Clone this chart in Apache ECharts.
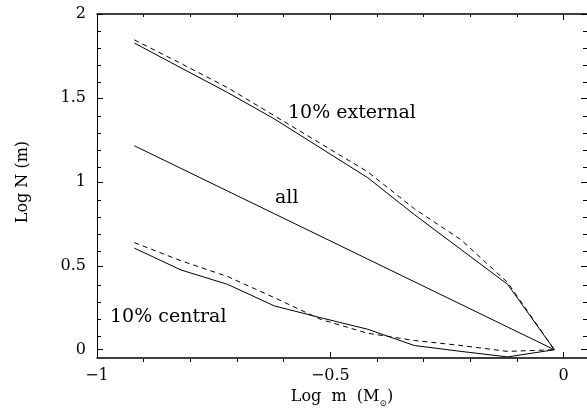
<!DOCTYPE html>
<html><head><meta charset="utf-8">
<script src="https://cdn.jsdelivr.net/npm/echarts@6/dist/echarts.min.js"></script>
<style>html,body{margin:0;padding:0;background:#fff}#c{width:587px;height:413px}</style>
</head><body><div id="c"></div>
<script>
// Data
const logM = [-0.92, -0.82, -0.72, -0.62, -0.52, -0.42, -0.32, -0.22, -0.12, -0.02];
const allN = [1.215, 1.08, 0.945, 0.81, 0.675, 0.54, 0.405, 0.27, 0.135, 0.0];
const extSolid = [1.827, 1.679, 1.532, 1.375, 1.20, 1.025, 0.805, 0.597, 0.389, 0.0];
const extDashed = [1.846, 1.705, 1.561, 1.394, 1.227, 1.06, 0.84, 0.655, 0.40, 0.0];
const cenSolid = [0.605, 0.475, 0.389, 0.261, 0.19, 0.122, 0.025, -0.01, -0.043, 0.0];
const cenDashed = [0.638, 0.53, 0.436, 0.31, 0.18, 0.098, 0.055, 0.025, -0.01, 0.0];

const xMajor = [-1, -0.5, 0];
const xMinor = [-0.9, -0.8, -0.7, -0.6, -0.4, -0.3, -0.2, -0.1];
const yMajor = [0, 0.5, 1, 1.5, 2];
const yMinor = [0.1, 0.2, 0.3, 0.4, 0.6, 0.7, 0.8, 0.9, 1.1, 1.2, 1.3, 1.4, 1.6, 1.7, 1.8, 1.9];

const FONT = 'DejaVu Serif';
const X_MIN = -1, X_MAX = 0.05, Y_MIN = -0.05, Y_MAX = 2;
const fmt = v => String(v).replace('-', '\u2212');

function axis(dim, pos, gi, ticks, len, opts) {
  const a = {
    type: 'value', gridIndex: gi, position: pos,
    min: dim === 'x' ? X_MIN : Y_MIN, max: dim === 'x' ? X_MAX : Y_MAX,
    axisLine: { show: !!opts.line, onZero: false, lineStyle: { color: '#000', width: opts.lw || 1 } },
    axisTick: { show: true, inside: true, length: len, customValues: ticks, lineStyle: { color: '#000', width: 1 } },
    axisLabel: { show: false },
    splitLine: { show: false }
  };
  if (opts.labels) {
    a.axisLabel = { show: true, customValues: ticks, formatter: fmt, color: '#000',
      fontFamily: FONT, fontSize: 16, margin: opts.margin };
  }
  if (opts.name) Object.assign(a, opts.name);
  return a;
}

const chart = echarts.init(document.getElementById('c'));
const line = (data, dashed) => ({
  type: 'line', xAxisIndex: 0, yAxisIndex: 0, symbol: 'none', silent: true,
  data: logM.map((x, i) => [x, data[i]]),
  lineStyle: { color: '#000', width: 1, type: dashed ? [5, 4] : 'solid' }
});

chart.setOption({
  animation: false,
  backgroundColor: '#fff',
  grid: [
    { left: 97, top: 14, width: 495, height: 348 },
    { left: 97, top: 14, width: 495, height: 348 }
  ],
  xAxis: [
    axis('x', 'bottom', 0, xMajor, 6, { line: true, lw: 1.5, labels: true, margin: 10, name: {
      name: '{t|Log  m  (M}{s|\u2299}{t|)}', nameLocation: 'middle', nameGap: 27,
      nameTextStyle: { rich: {
        t: { fontFamily: FONT, fontSize: 16, color: '#000', lineHeight: 22 },
        s: { fontFamily: FONT, fontSize: 9, color: '#000', lineHeight: 10, verticalAlign: 'bottom' }
      } } } }),
    axis('x', 'top', 0, xMajor, 6, { line: true, lw: 1.5 }),
    axis('x', 'bottom', 1, xMinor, 3, {}),
    axis('x', 'top', 1, xMinor, 3, {})
  ],
  yAxis: [
    axis('y', 'left', 0, yMajor, 6, { line: true, labels: true, margin: 11, name: {
      name: 'Log N (m)', nameLocation: 'middle', nameGap: 66,
      nameTextStyle: { fontFamily: FONT, fontSize: 16, color: '#000', padding: [0, 0, 0, 8] } } }),
    axis('y', 'right', 0, yMajor, 6, { line: true }),
    axis('y', 'left', 1, yMinor, 4, {}),
    axis('y', 'right', 1, yMinor, 4, {})
  ],
  graphic: [
    { type: 'text', left: 288, top: 104, style: { text: '10% external', fontFamily: FONT, fontSize: 19, fill: '#000' } },
    { type: 'text', left: 275, top: 189, style: { text: 'all', fontFamily: FONT, fontSize: 19, fill: '#000' } },
    { type: 'text', left: 110, top: 308, style: { text: '10% central', fontFamily: FONT, fontSize: 19, fill: '#000' } }
  ],
  series: [
    line(extSolid, false), line(extDashed, true),
    line(allN, false),
    line(cenSolid, false), line(cenDashed, true)
  ]
});
</script></body></html>
